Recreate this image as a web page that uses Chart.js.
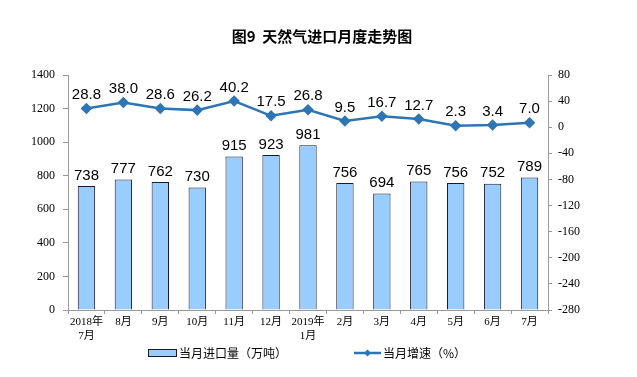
<!DOCTYPE html>
<html>
<head>
<meta charset="utf-8">
<script src="https://cdn.jsdelivr.net/npm/chart.js@4/dist/chart.umd.min.js"></script>
<style>
  html, body { margin: 0; padding: 0; background: #fff; }
  #wrap { width: 637px; height: 377px; position: relative; }
</style>
</head>
<body>
<div id="wrap"><canvas id="chart" width="637" height="377"></canvas></div>
<script>
// 数据
const months = [['2018年', '7月'], '8月', '9月', '10月', '11月', '12月', ['2019年', '1月'], '2月', '3月', '4月', '5月', '6月', '7月'];
const importVolume = [738, 777, 762, 730, 915, 923, 981, 756, 694, 765, 756, 752, 789];
const growthRate = [28.8, 38.0, 28.6, 26.2, 40.2, 17.5, 26.8, 9.5, 16.7, 12.7, 2.3, 3.4, 7.0];
const leftTicks = [0, 200, 400, 600, 800, 1000, 1200, 1400];
const rightTicks = [-280, -240, -200, -160, -120, -80, -40, 0, 40, 80];

const barColor = '#99CCFF';
const barBorder = '#1a1a2e';
const lineColor = '#2E75B6';
const axisColor = '#999999';
const serif = "'Liberation Serif', 'Noto Sans CJK SC', serif";
const sans = "'Liberation Sans', Arial, sans-serif";

// 标签、标题、图例
const labelPlugin = {
  id: 'labels',
  afterDraw(chart) {
    const ctx = chart.ctx;
    ctx.save();
    ctx.fillStyle = '#000';
    ctx.textAlign = 'center';
    ctx.textBaseline = 'bottom';
    ctx.font = '15px ' + sans;
    chart.getDatasetMeta(0).data.forEach((bar, i) => {
      ctx.fillText(importVolume[i], bar.x, bar.y - 3);
    });
    chart.getDatasetMeta(1).data.forEach((pt, i) => {
      ctx.fillText(growthRate[i].toFixed(1), pt.x, pt.y - 6);
    });

    // 标题
    ctx.textBaseline = 'middle';
    ctx.font = 'bold 15px "Noto Sans CJK SC", sans-serif';
    ctx.fillText('图9  天然气进口月度走势图', 322, 36);

    // 图例
    ctx.font = '12px "Noto Sans CJK SC", sans-serif';
    ctx.textAlign = 'left';
    ctx.fillStyle = barColor;
    ctx.fillRect(148, 349, 29, 8);
    ctx.strokeStyle = barBorder;
    ctx.lineWidth = 1;
    ctx.strokeRect(148.5, 349.5, 28, 7);
    ctx.fillStyle = '#000';
    ctx.fillText('当月进口量（万吨）', 179, 353);

    ctx.strokeStyle = lineColor;
    ctx.lineWidth = 2.5;
    ctx.beginPath();
    ctx.moveTo(354, 353);
    ctx.lineTo(381, 353);
    ctx.stroke();
    ctx.fillStyle = lineColor;
    ctx.beginPath();
    ctx.moveTo(367.5, 349.5);
    ctx.lineTo(371, 353);
    ctx.lineTo(367.5, 356.5);
    ctx.lineTo(364, 353);
    ctx.closePath();
    ctx.fill();
    ctx.fillStyle = '#000';
    ctx.fillText('当月增速（%）', 383, 353);
    ctx.restore();
  }
};

new Chart(document.getElementById('chart').getContext('2d'), {
  data: {
    labels: months,
    datasets: [
      {
        type: 'bar',
        label: '当月进口量（万吨）',
        data: importVolume,
        backgroundColor: barColor,
        borderColor: barBorder,
        borderWidth: 1,
        barPercentage: 0.47,
        categoryPercentage: 1,
        yAxisID: 'y',
        order: 2
      },
      {
        type: 'line',
        label: '当月增速（%）',
        data: growthRate,
        borderColor: lineColor,
        backgroundColor: lineColor,
        borderWidth: 2.5,
        pointStyle: 'rectRot',
        pointRadius: 4,
        tension: 0,
        yAxisID: 'y1',
        order: 1
      }
    ]
  },
  options: {
    responsive: false,
    animation: false,
    layout: { padding: { top: 75, bottom: 27, left: 0, right: 0 } },
    plugins: {
      legend: { display: false },
      title: { display: false },
      tooltip: { enabled: false }
    },
    scales: {
      x: {
        offset: true,
        border: { color: axisColor },
        grid: { drawOnChartArea: false, offset: true, tickLength: 4, color: axisColor },
        ticks: { color: '#000', font: { family: serif, size: 11 }, maxRotation: 0, autoSkip: false, padding: 2 },
        afterFit(scale) { scale.height = 40; }
      },
      y: {
        position: 'left',
        min: 0,
        max: 1400,
        afterBuildTicks(scale) { scale.ticks = leftTicks.map(v => ({ value: v })); },
        border: { color: axisColor },
        grid: { drawOnChartArea: false, tickLength: 5, color: axisColor },
        ticks: { color: '#000', font: { family: serif, size: 12 }, padding: 8, callback: v => String(v) },
        afterFit(scale) { scale.width = 68; }
      },
      y1: {
        position: 'right',
        min: -280,
        max: 80,
        afterBuildTicks(scale) { scale.ticks = rightTicks.map(v => ({ value: v })); },
        border: { color: axisColor },
        grid: { drawOnChartArea: false, tickLength: 4, color: axisColor },
        ticks: { color: '#000', font: { family: serif, size: 12 }, padding: 6, callback: v => String(v) },
        afterFit(scale) { scale.width = 89; }
      }
    }
  },
  plugins: [labelPlugin]
});
</script>
</body>
</html>
